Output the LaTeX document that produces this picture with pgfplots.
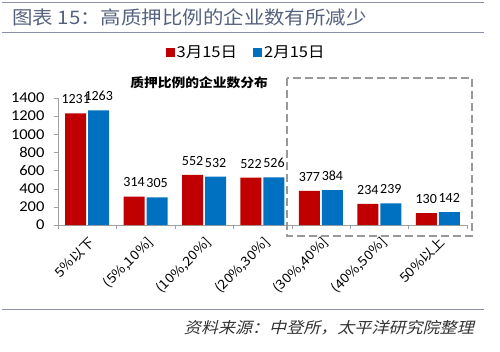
\documentclass[border=0pt]{standalone}
\usepackage{fontspec}
\setmainfont{Carlito}
\newfontfamily\latinw[FakeStretch=1.1]{Carlito}
\newfontfamily\cjk[FakeStretch=1.1]{Noto Sans CJK SC}
\newfontfamily\cjkit[FakeSlant=0.25,FakeStretch=1.1]{Noto Sans CJK SC}
\usepackage{pgfplots}
\pgfplotsset{compat=1.18}
\definecolor{redbar}{HTML}{C00000}
\definecolor{bluebar}{HTML}{0070C0}
\definecolor{titlecol}{HTML}{55627E}
\definecolor{rulecol}{HTML}{8C90A8}
\definecolor{axcol}{HTML}{A0A0A0}
\begin{document}
\begin{tikzpicture}[x=1pt,y=1pt]
\path[use as bounding box] (0,0) rectangle (500,351);
\draw[rulecol, line width=1pt] (2,348) -- (484,348);
\draw[rulecol, line width=1pt] (2,318) -- (484,318);
\draw[rulecol, line width=1pt] (2,42) -- (484,42);
\node[anchor=west, text=titlecol, font=\cjk\fontsize{18.6}{21}\selectfont, inner sep=0pt] at (12,334) {图表 15：高质押比例的企业数有所减少};
\node[anchor=east, text=black!80, font=\cjkit\fontsize{15.5}{18}\selectfont, inner sep=0pt] at (474,23) {资料来源：中登所，太平洋研究院整理};
\node[font=\cjk\bfseries\fontsize{12.5}{15}\selectfont] at (199,268) {质押比例的企业数分布};
\begin{axis}[
  at={(58pt,126pt)}, anchor=south west, scale only axis,
  width=409pt, height=127pt,
  ybar, bar width=21pt,
  xmin=-0.5, xmax=6.5, ymin=0, ymax=1400,
  ytick={0,200,...,1400},
  xtick={0,...,6},
  xticklabels={5\%以下,{(5\%,10\%]},{(10\%,20\%]},{(20\%,30\%]},{(30\%,40\%]},{(40\%,50\%]},50\%以上},
  minor xtick={-0.5,0.5,...,6.5},
  major x tick style={draw=none},
  minor tick length=4pt,
  major tick length=4pt,
  tick align=outside,
  axis x line*=bottom, axis y line*=left,
  axis line style={axcol, -},
  tick style={axcol},
  every tick/.style={axcol},
  xticklabel style={rotate=45, anchor=north east, font=\cjk\fontsize{13}{15}\selectfont, inner sep=1pt, xshift=-3pt, yshift=-4pt},
  yticklabel style={font=\latinw\fontsize{15}{17}\selectfont, xshift=-6pt},
  /pgf/number format/.cd, 1000 sep={}, assume math mode=true,
  /pgfplots/.cd,
  nodes near coords,
  every node near coord/.append style={font=\fontsize{14}{16}\selectfont, text=black, yshift=6pt},
  legend style={at={(0.46,1.358)}, anchor=center, draw=none, fill=none, legend columns=2,
    font=\cjk\fontsize{15}{17}\selectfont,
    /tikz/every even column/.append style={column sep=14pt}},
  legend image code/.code={\fill[#1] (0pt,-4.5pt) rectangle (9pt,4.5pt);},
]
\addplot[fill=redbar, draw=none] coordinates {(0,1231) (1,314) (2,552) (3,522) (4,377) (5,234) (6,130)};
\addplot[fill=bluebar, draw=none] coordinates {(0,1263) (1,305) (2,532) (3,526) (4,384) (5,239) (6,142)};
\legend{3月15日, 2月15日}
\end{axis}
\draw[gray!80, line width=2.5pt, dash pattern=on 8pt off 4pt] (287,273) rectangle (472,115);
\end{tikzpicture}
\end{document}
